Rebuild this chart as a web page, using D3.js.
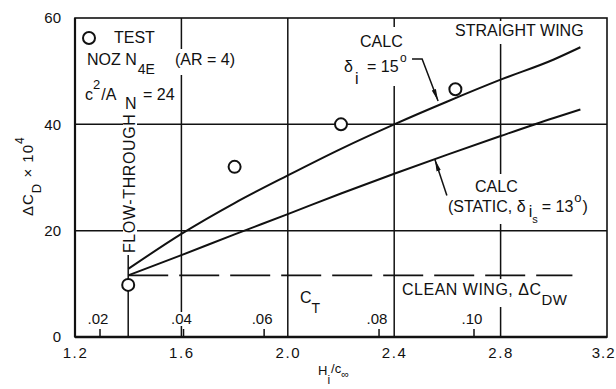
<!DOCTYPE html>
<html>
<head>
<meta charset="utf-8">
<script src="https://cdn.jsdelivr.net/npm/d3@7"></script>
<style>
  html, body { margin: 0; padding: 0; background: #fff; }
  svg { display: block; }
  text { font-family: "Liberation Sans", Arial, sans-serif; fill: #111; }
</style>
</head>
<body>
<svg id="chart" width="616" height="389"></svg>
<script>
// H_i / c_inf axis ticks and grid
const xTicks = [1.2, 1.6, 2.0, 2.4, 2.8, 3.2];
const xGrid = [1.6, 2.0, 2.4, 2.8];
// Delta C_D x 10^4 axis ticks and grid
const yTicks = [0, 20, 40, 60];
const yGrid = [20, 40];

// Secondary thrust-coefficient scale (C_T) marked along the bottom
const ctLabels = [".02", ".04", ".06", ".08", ".10"];
const ctAtH = [1.294, 1.608, 1.911, 2.343, 2.700];

// Test points, nozzle N4E (AR = 4)
const testH = [1.4, 1.8, 2.2, 2.63];
const testDCD = [9.8, 32.0, 40.0, 46.6];

// Calculated, delta_i = 15 deg
const calcH = [1.4, 1.6, 1.8, 2.0, 2.2, 2.4, 2.6, 2.8, 3.0, 3.1];
const calcDCD = [12.8, 19.4, 25.2, 30.4, 35.4, 40.0, 44.3, 48.4, 52.2, 54.5];

// Calculated, static delta_is = 13 deg
const staticH = [1.4, 1.6, 1.8, 2.0, 2.2, 2.4, 2.6, 2.8, 3.0, 3.1];
const staticDCD = [11.6, 15.4, 19.3, 23.1, 27.0, 30.7, 34.3, 37.8, 41.2, 42.8];

// Clean wing drag level and its extent
const cleanDCD = 11.6;
const cleanH = [1.4, 3.07];

// Flow-through reference station
const flowH = 1.4;
const flowTop = 16.0;

const svg = d3.select("#chart");
const m = { left: 75, right: 607, top: 18, bottom: 337 };

const x = d3.scaleLinear().domain([1.2, 3.2]).range([m.left, m.right]);
const y = d3.scaleLinear().domain([0, 60]).range([m.bottom, m.top]);

const ink = "#111";

// grid
const grid = svg.append("g").attr("stroke", ink).attr("stroke-width", 1.5);
grid.selectAll(".vg").data(xGrid).join("line")
  .attr("x1", d => x(d)).attr("x2", d => x(d))
  .attr("y1", m.top).attr("y2", m.bottom);
grid.selectAll(".hg").data(yGrid).join("line")
  .attr("x1", m.left).attr("x2", m.right)
  .attr("y1", d => y(d)).attr("y2", d => y(d));

// flow-through station line
svg.append("line")
  .attr("x1", x(flowH)).attr("x2", x(flowH))
  .attr("y1", y(0)).attr("y2", y(flowTop))
  .attr("stroke", ink).attr("stroke-width", 1.5);

// clean wing level (dashed)
svg.append("line")
  .attr("x1", x(cleanH[0])).attr("x2", x(cleanH[1]))
  .attr("y1", y(cleanDCD)).attr("y2", y(cleanDCD))
  .attr("stroke", ink).attr("stroke-width", 1.8)
  .attr("stroke-dasharray", "40,11");

// labels inside the frame get a white backing so grid lines break around them;
// all backings sit underneath all labels and marks drawn later
const backs = svg.append("g");
function backed(t, pad = 2, extra = [0, 0]) {
  const b = t.node().getBBox();
  backs.append("rect")
    .attr("x", b.x - pad).attr("y", b.y + 2 - extra[0])
    .attr("width", b.width + 2 * pad).attr("height", b.height - 3 + extra[0] + extra[1])
    .attr("transform", t.attr("transform"))
    .attr("fill", "#fff");
  return t;
}

// C_T tick marks
svg.append("g").selectAll("line").data(ctAtH).join("line")
  .attr("x1", d => x(d)).attr("x2", d => x(d))
  .attr("y1", m.bottom).attr("y2", m.bottom - 8)
  .attr("stroke", ink).attr("stroke-width", 1.5);

// frame
svg.append("rect")
  .attr("x", m.left).attr("y", m.top)
  .attr("width", m.right - m.left).attr("height", m.bottom - m.top)
  .attr("fill", "none").attr("stroke", ink).attr("stroke-width", 1.6);
svg.append("line")
  .attr("x1", m.left).attr("x2", m.right).attr("y1", m.bottom).attr("y2", m.bottom)
  .attr("stroke", ink).attr("stroke-width", 2.6);
svg.append("line")
  .attr("x1", m.left).attr("x2", m.left).attr("y1", m.top).attr("y2", m.bottom)
  .attr("stroke", ink).attr("stroke-width", 2.2);

// curves
const line = d3.line().x(d => x(d[0])).y(d => y(d[1])).curve(d3.curveMonotoneX);
svg.append("path").datum(d3.zip(calcH, calcDCD))
  .attr("d", line).attr("fill", "none").attr("stroke", ink).attr("stroke-width", 2);
svg.append("path").datum(d3.zip(staticH, staticDCD))
  .attr("d", line).attr("fill", "none").attr("stroke", ink).attr("stroke-width", 2);

// arrowhead
svg.append("defs").append("marker")
  .attr("id", "arrow").attr("viewBox", "0 0 12 6")
  .attr("refX", 12).attr("refY", 3)
  .attr("markerWidth", 12).attr("markerHeight", 6)
  .attr("markerUnits", "userSpaceOnUse")
  .attr("orient", "auto")
  .append("path").attr("d", "M0,0.8 L12,3 L0,5.2 Z").attr("fill", ink);

// test points
svg.append("g").selectAll("circle").data(d3.zip(testH, testDCD)).join("circle")
  .attr("cx", d => x(d[0])).attr("cy", d => y(d[1])).attr("r", 6)
  .attr("fill", "#fff").attr("stroke", ink).attr("stroke-width", 2);

// axis tick labels
const xAxis = svg.append("g")
  .attr("transform", `translate(0,${m.bottom})`)
  .call(d3.axisBottom(x).tickValues(xTicks).tickSize(0).tickPadding(10).tickFormat(d3.format(".1f")));
xAxis.select(".domain").remove();
xAxis.selectAll("text")
  .attr("font-family", "Liberation Sans, Arial, sans-serif")
  .attr("font-size", 15).attr("letter-spacing", 1.6).attr("fill", ink);
// the last label sits against the right edge of the page
xAxis.selectAll(".tick").filter(d => d === 3.2).select("text")
  .attr("text-anchor", "end").attr("x", 616 - x(3.2) - 1).attr("letter-spacing", 1.0);

const yAxis = svg.append("g")
  .attr("transform", `translate(${m.left},0)`)
  .call(d3.axisLeft(y).tickValues(yTicks).tickSize(0).tickPadding(14).tickFormat(d3.format("d")));
yAxis.select(".domain").remove();
yAxis.selectAll("text")
  .attr("font-family", "Liberation Sans, Arial, sans-serif")
  .attr("font-size", 15).attr("fill", ink);

const labels = svg.append("g");

// C_T tick labels
ctLabels.forEach((d, i) => {
  backed(labels.append("text")
    .attr("x", x(ctAtH[i]) - 2).attr("y", 324)
    .attr("text-anchor", "middle").attr("font-size", 15)
    .text(d), 1);
});

// text helper: pieces of [string, dx, dy, size, absoluteX]
function rich(gx, gy, pieces, opts = {}) {
  const t = labels.append("text")
    .attr("x", gx).attr("y", gy).attr("font-size", opts.size || 16);
  if (opts.rotate) t.attr("transform", `rotate(${opts.rotate},${gx},${gy})`);
  if (opts.spacing) t.attr("letter-spacing", opts.spacing);
  pieces.forEach(p => {
    const s = t.append("tspan").text(p[0]);
    if (p[4] !== undefined) s.attr("x", p[4]);
    else if (p[1]) s.attr("dx", p[1]);
    if (p[2]) s.attr("dy", p[2]);
    if (p[3]) s.attr("font-size", p[3]);
  });
  if (opts.back !== false) backed(t, 2, opts.extra || [0, 0]);
  return t;
}

// legend block
labels.append("circle").attr("cx", 89).attr("cy", 38).attr("r", 6)
  .attr("fill", "#fff").attr("stroke", ink).attr("stroke-width", 2);
rich(114, 43, [["TEST"]]);
rich(87, 65, [["NOZ N"], ["4E", 1, 9, 14]]);
rich(175, 65, [["(AR = 4)"]], { extra: [4, 8] });
rich(85, 100, [["c"], ["2", 0, -11, 13], ["/A", 1, 11], ["N", 0, 9, 16, 125], ["= 24", 0, -9, 16, 143]]);

// flow-through label
rich(135, 253, [["FLOW-THROUGH"]], { rotate: -90, spacing: 0.6 });

// calculated curve labels
rich(360, 47, [["CALC"]], { extra: [8, 12] });
rich(344, 72, [["δ"], ["i", 0, 12, 16, 355], ["= 15", 0, -12, 16, 367], ["o", 0, -10, 12, 400]]);
rich(455, 36, [["STRAIGHT WING"]], { extra: [3, 6] });
rich(475, 192, [["CALC"]], { extra: [6, 0] });
rich(448, 212, [["(STATIC, δ"], ["i", 3, 5], ["s", 0, 6, 11], ["= 13", 4, -11], ["o", 1, -10, 13], [")", 1, 10]]);

// leader lines to the calculated curves
svg.append("path")
  .attr("d", `M${x(2.467)},${y(52.3)} L${x(2.505)},${y(52.3)} L${x(2.565)},${y(44.4)}`)
  .attr("fill", "none").attr("stroke", ink).attr("stroke-width", 1.5)
  .attr("marker-end", "url(#arrow)");
svg.append("path")
  .attr("d", `M${x(2.598)},${y(26.6)} L${x(2.553)},${y(33.4)}`)
  .attr("fill", "none").attr("stroke", ink).attr("stroke-width", 1.5)
  .attr("marker-end", "url(#arrow)");

// clean wing and C_T labels
rich(402, 295, [["CLEAN WING, ΔC"], ["DW", 0, 10, 15]], { spacing: 0.5, extra: [4, 0] });
rich(300, 303, [["C"], ["T", 0, 10, 14]]);

// axis titles
rich(33, 216, [["ΔC"], ["D", 0, 8, 13], [" × 10", 0, -8], ["4", 0, -9, 12]], { rotate: -90, size: 15, spacing: 1, back: false });
rich(318, 375, [["H"], ["i", 0, 9, 12], ["/c", 1, -11], ["∞", 0, 5, 11]], { size: 13, back: false });
</script>
</body>
</html>
